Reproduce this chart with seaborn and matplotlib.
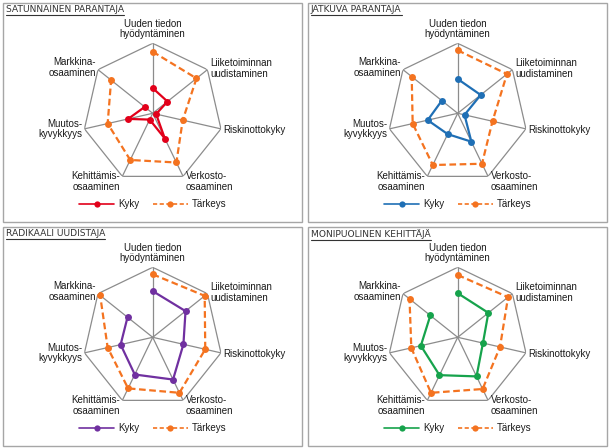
import numpy as np
import pandas as pd
import matplotlib
matplotlib.use("Agg")
import matplotlib.pyplot as plt
from matplotlib.patches import Rectangle
from matplotlib.lines import Line2D
import seaborn as sns

# axis labels, clockwise from the top
dimensions = [
    "Uuden tiedon\nhyödyntäminen",
    "Liiketoiminnan\nuudistaminen",
    "Riskinottokyky",
    "Verkosto-\nosaaminen",
    "Kehittämis-\nosaaminen",
    "Muutos-\nkyvykkyys",
    "Markkina-\nosaaminen",
]

titles = [
    "SATUNNAINEN PARANTAJA",
    "JATKUVA PARANTAJA",
    "RADIKAALI UUDISTAJA",
    "MONIPUOLINEN KEHITTÄJÄ",
]

# values (scale 0-5)
kyky_satunnainen = [1.8, 1.35, 0.25, 2.0, 0.5, 1.8, 0.73]
tarkeys_satunnainen = [4.4, 4.0, 2.2, 3.9, 3.7, 3.3, 3.8]
kyky_jatkuva = [2.45, 2.1, 0.5, 2.25, 1.65, 2.2, 1.45]
tarkeys_jatkuva = [4.5, 4.5, 2.55, 4.0, 4.1, 3.3, 4.2]
kyky_radikaali = [3.3, 3.0, 2.25, 3.35, 2.95, 2.35, 2.3]
tarkeys_radikaali = [4.5, 4.75, 3.85, 4.4, 4.05, 3.3, 4.8]
kyky_monipuolinen = [3.15, 2.8, 1.85, 3.1, 3.0, 2.7, 2.5]
tarkeys_monipuolinen = [4.45, 4.6, 3.1, 4.1, 4.4, 3.4, 4.4]

kyky = [kyky_satunnainen, kyky_jatkuva, kyky_radikaali, kyky_monipuolinen]
tarkeys = [tarkeys_satunnainen, tarkeys_jatkuva, tarkeys_radikaali, tarkeys_monipuolinen]
kyky_colors = ["#E2001A", "#1F6FB5", "#7030A0", "#16A34C"]
tarkeys_color = "#F47320"
r_max = 5

sns.set_theme(style="white")
plt.rcParams["font.family"] = ["Liberation Sans", "DejaVu Sans"]

W, H = 610, 448
fig = plt.figure(figsize=(W / 100, H / 100), dpi=100)

n = len(dimensions)
angles = np.arange(n) * 2 * np.pi / n

# label placement per axis: (ha, va, dx px, dy px)
label_place = [
    ("center", "bottom", 0, 4),
    ("left", "center", 3, 1),
    ("left", "center", 2, -1),
    ("left", "top", 3, 5),
    ("right", "top", -2, 5),
    ("right", "center", -2, 0),
    ("right", "center", -2, 2),
]

# panel origins in pixels (top-left)
origins = [(0, 0), (305, 0), (0, 224), (305, 224)]
title_texts = []

for i, (ox, oy) in enumerate(origins):
    # panel frame
    fig.add_artist(Rectangle(((ox + 3) / W, 1 - (oy + 222) / H), 299 / W, 219 / H,
                             transform=fig.transFigure, fill=False,
                             edgecolor="#A6A6A6", linewidth=1))
    t = fig.text((ox + 6) / W, 1 - (oy + 5) / H, titles[i], ha="left", va="top",
                 fontsize=6.6, color="#333333", family="DejaVu Sans")
    title_texts.append(t)

    cx, cy, rad = ox + 152.7, oy + 113.3, 70
    ax = fig.add_axes([(cx - rad) / W, 1 - (cy + rad) / H, 2 * rad / W, 2 * rad / H],
                      projection="polar")
    ax.set_theta_zero_location("N")
    ax.set_theta_direction(-1)
    ax.set_ylim(0, r_max)
    ax.grid(False)
    ax.spines["polar"].set_visible(False)
    ax.set_xticks([])
    ax.set_yticks([])
    ax.patch.set_alpha(0)

    # heptagon frame and spokes
    th = np.append(angles, angles[0])
    ax.plot(th, [r_max] * (n + 1), color="#8C8C8C", linewidth=0.9)
    for a in angles:
        ax.plot([a, a], [0, r_max], color="#8C8C8C", linewidth=0.9)

    df = pd.DataFrame({
        "theta": np.concatenate([th, th]),
        "value": list(kyky[i]) + [kyky[i][0]] + list(tarkeys[i]) + [tarkeys[i][0]],
        "sarja": ["Kyky"] * (n + 1) + ["Tärkeys"] * (n + 1),
    })
    sns.lineplot(data=df[df.sarja == "Tärkeys"], x="theta", y="value", ax=ax,
                 sort=False, color=tarkeys_color, linewidth=1.6, linestyle=(0, (3, 1.6)),
                 marker="o", markersize=5, markeredgewidth=0, legend=False)
    sns.lineplot(data=df[df.sarja == "Kyky"], x="theta", y="value", ax=ax,
                 sort=False, color=kyky_colors[i], linewidth=1.6,
                 marker="o", markersize=5, markeredgewidth=0, legend=False)
    ax.set_xlabel("")
    ax.set_ylabel("")

    # axis labels
    for a, lab, (ha, va, dx, dy) in zip(angles, dimensions, label_place):
        ax.annotate(lab, xy=(a, r_max), xytext=(dx * 0.72, dy * 0.72),
                    textcoords="offset points", ha=ha, va=va, fontsize=7,
                    color="#1a1a1a", linespacing=1.05, annotation_clip=False)

    handles = [
        Line2D([], [], color=kyky_colors[i], linewidth=1.2, marker="o",
               markersize=4.5, markeredgewidth=0),
        Line2D([], [], color=tarkeys_color, linewidth=1.2, linestyle=(0, (2.5, 1.5)),
               marker="o", markersize=4.5, markeredgewidth=0),
    ]
    ax.legend(handles, ["Kyky", "Tärkeys"], loc="center",
              bbox_to_anchor=(0.5, -0.15), ncol=2, frameon=False,
              fontsize=7, handlelength=3.6, columnspacing=1.4,
              handletextpad=0.4, borderpad=0, labelcolor="#1a1a1a")

# underline titles
fig.canvas.draw()
renderer = fig.canvas.get_renderer()
for t in title_texts:
    bb = t.get_window_extent(renderer).transformed(fig.transFigure.inverted())
    fig.add_artist(Line2D([bb.x0, bb.x1], [bb.y0 - 1 / H, bb.y0 - 1 / H],
                          transform=fig.transFigure, color="#333333", linewidth=0.8))

fig.savefig("out.png", dpi=100)
